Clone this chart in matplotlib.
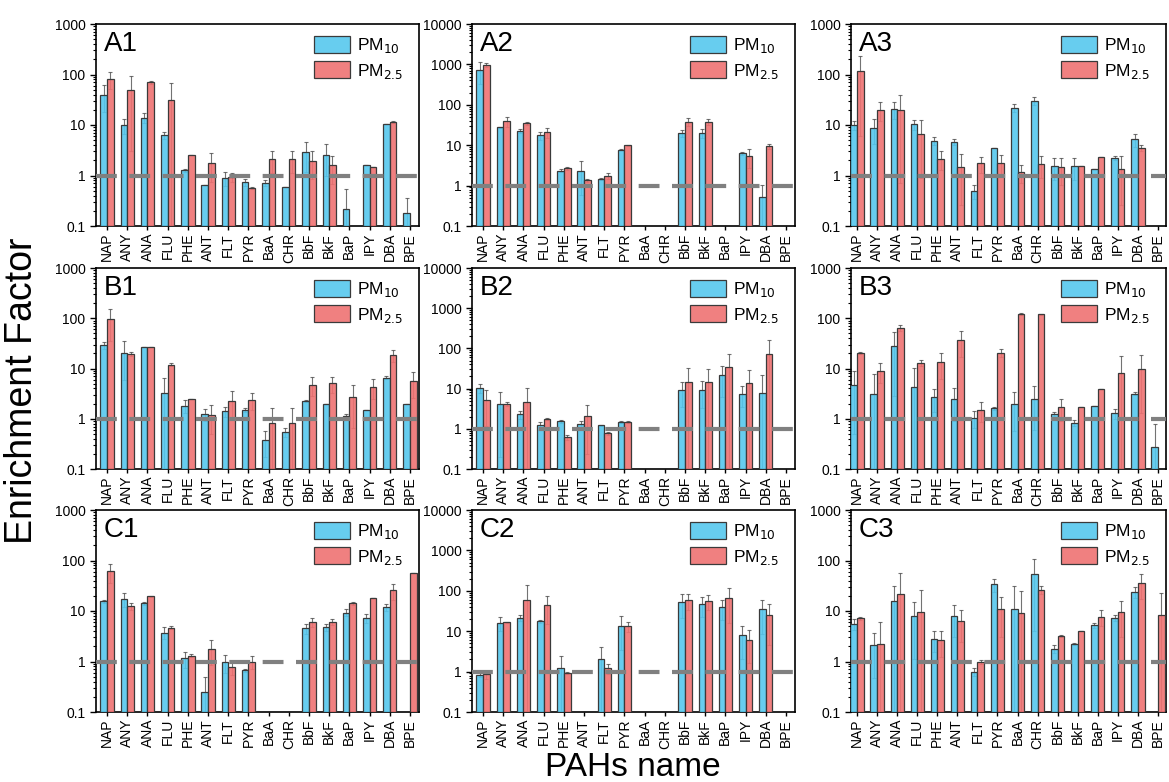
import numpy as np
import matplotlib
matplotlib.use('Agg')
import matplotlib.pyplot as plt
from matplotlib.colors import to_rgba
from matplotlib.ticker import FixedLocator, LogLocator, NullFormatter

plt.rcParams['font.family'] = ['Liberation Sans', 'DejaVu Sans']

nan = np.nan
pahs = ['NAP', 'ANY', 'ANA', 'FLU', 'PHE', 'ANT', 'FLT', 'PYR',
        'BaA', 'CHR', 'BbF', 'BkF', 'BaP', 'IPY', 'DBA', 'BPE']

# Site A
a1_pm10 = [40, 10, 14, 6.2, 1.26, 0.66, 0.9, 0.74, 0.71, 0.58, 2.9, 2.6, 0.22, 1.58, 10.6, 0.18]
a1_pm25 = [81, 49, 70, 31, 2.5, 1.74, 0.94, 0.57, 2.1, 2.1, 1.97, 1.58, nan, 1.47, 11.5, nan]
a1_pm10_err = [22, 3.4, 3, 1, 0.1, 0, 0.27, 0.13, 0.1, 0, 1.7, 1.6, 0.31, 0, 0, 0.18]
a1_pm25_err = [30, 46, 5, 36, 0, 1, 0.2, 0.02, 1, 1, 1.1, 0.9, 0, 0, 0.5, 0]

a2_pm10 = [724, 28, 22.6, 17.4, 2.35, 2.27, 1.46, 7.7, nan, nan, 20, 20, nan, 6.3, 0.51, nan]
a2_pm25 = [960, 39, 35, 21, 2.7, 1.36, 1.74, 10, nan, nan, 38, 38.5, nan, 5.4, 9.4, nan]
a2_pm10_err = [400, 1, 2, 4, 0.2, 1.7, 0.1, 0.3, 0, 0, 4, 5, 0, 0.5, 0.5, 0]
a2_pm25_err = [100, 10, 3, 6, 0.2, 0.1, 0.3, 0.3, 0, 0, 8, 6, 0, 2.6, 1.2, 0]

a3_pm10 = [9.8, 8.8, 21, 10.4, 4.9, 4.7, 0.5, 3.5, 21.9, 30, 1.53, 1.53, 1.36, 2.27, 5.25, nan]
a3_pm25 = [120, 20, 19.7, 6.7, 2.17, 1.46, 1.73, 1.78, 1.16, 1.68, 1.46, 1.53, 2.3, 1.36, 3.5, nan]
a3_pm10_err = [2, 4.5, 8, 2.4, 0.8, 0.7, 0.16, 0, 4, 5.5, 0.7, 0.7, 0, 0.2, 1.5, 0]
a3_pm25_err = [114, 8, 19, 5.8, 0.9, 1.2, 0.6, 0.8, 0.45, 0.8, 0.8, 0, 0, 1.1, 0.5, 0]

# Site B
b1_pm10 = [29, 20.8, 26.5, 3.3, 1.81, 1.24, 1.4, 1.5, 0.377, 0.54, 2.28, 2.0, 1.16, 1.46, 6.6, 1.99]
b1_pm25 = [95, 19.5, 26.5, 12, 2.5, 1.2, 2.3, 2.4, 0.83, 0.83, 4.8, 5.1, 2.65, 4.26, 18.4, 5.6]
b1_pm10_err = [5, 15, 0, 3.3, 0.5, 0.34, 0.3, 0.15, 0.2, 0.1, 0.1, 0, 0.1, 0, 0.5, 0]
b1_pm25_err = [60, 2, 0, 1, 0, 0.7, 1.25, 0.9, 0.8, 0.8, 1.9, 1.8, 2, 1.8, 5, 3]

b2_pm10 = [10.5, 4.2, 2.3, 1.21, 1.52, 1.28, 1.21, 1.47, nan, nan, 9.0, 9.2, 21.3, 7.45, 7.7, nan]
b2_pm25 = [5.2, 4.2, 4.6, 1.71, 0.62, 2.03, 0.77, 1.47, nan, nan, 15, 15, 34, 14, 74, nan]
b2_pm10_err = [2.6, 4, 0.5, 0.3, 0.1, 0.3, 0.05, 0.1, 0, 0, 5.5, 6, 15, 4, 14, 0]
b2_pm25_err = [4, 0.5, 6, 0.1, 0.1, 1.8, 0.05, 0.1, 0, 0, 17, 15, 39, 14.5, 85, 0]

b3_pm10 = [4.8, 3.1, 27.8, 4.26, 2.65, 2.5, 1.05, 1.6, 1.96, 2.5, 1.26, 0.83, 1.76, 1.28, 3.14, 0.27]
b3_pm25 = [20.2, 9.1, 65, 13, 13.2, 36.6, 1.51, 20.8, 122, 120, 1.7, 1.7, 3.83, 8.1, 10, nan]
b3_pm10_err = [4.3, 4.5, 25, 6, 1.3, 1.6, 0.4, 0.1, 1.4, 1.9, 0.1, 0.1, 0, 0.3, 0.2, 0.5]
b3_pm25_err = [1, 4, 9, 2, 7, 20, 0.66, 4, 8, 3, 0.8, 0, 0, 10, 8.7, 0]

# Site C
c1_pm10 = [15.5, 17.3, 14.2, 3.74, 1.16, 0.25, 0.96, 0.67, nan, nan, 4.55, 4.76, 9.3, 7.2, 11.8, nan]
c1_pm25 = [61.5, 12.6, 19.5, 4.7, 1.31, 1.75, 0.78, 1.0, nan, nan, 6.0, 6.15, 14.2, 18, 25.6, 57]
c1_pm10_err = [1, 5.4, 1, 1, 0.4, 0.24, 0.37, 0.05, 0, 0, 1, 0.7, 1.5, 1.4, 2, 0]
c1_pm25_err = [25, 2, 0.5, 0.3, 0.1, 0.9, 0.25, 0.3, 0, 0, 1.2, 0.8, 1.1, 0, 9, 0]

c2_pm10 = [0.83, 16, 21.6, 17.5, 1.26, nan, 2.06, 13.4, nan, nan, 51.7, 47, 39, 7.9, 34.7, nan]
c2_pm25 = [0.86, 16.6, 58, 45, 0.91, nan, 1.21, 13.2, nan, nan, 58, 54.7, 66, 6.06, 25.6, nan]
c2_pm10_err = [0.1, 6, 4, 1.5, 1.2, 0, 2, 10, 0, 0, 30, 24, 20, 5.8, 26, 0]
c2_pm25_err = [0.2, 0.5, 78, 30, 0.05, 0, 0.35, 3.4, 0, 0, 25, 22, 50, 4.4, 21, 0]

c3_pm10 = [5.6, 2.08, 15.6, 8.1, 2.74, 8.1, 0.63, 33.9, 11.1, 55, 1.79, 2.24, 5.19, 7.37, 23.8, nan]
c3_pm25 = [7.15, 2.24, 21.4, 9.55, 2.61, 6.4, 0.98, 11.1, 9.3, 26.5, 3.19, 3.95, 7.7, 9.55, 35.5, 8.45]
c3_pm10_err = [1.4, 1.6, 16, 7, 1.2, 5, 0.11, 10, 20, 51, 0.3, 0.1, 0.5, 1, 6, 0]
c3_pm25_err = [0.5, 3.9, 36, 16, 1.4, 4, 0.07, 8, 16, 5, 0.1, 0, 2.6, 6.5, 18, 14]

panels = [
    ('A1', a1_pm10, a1_pm25, a1_pm10_err, a1_pm25_err, 1000),
    ('A2', a2_pm10, a2_pm25, a2_pm10_err, a2_pm25_err, 10000),
    ('A3', a3_pm10, a3_pm25, a3_pm10_err, a3_pm25_err, 1000),
    ('B1', b1_pm10, b1_pm25, b1_pm10_err, b1_pm25_err, 1000),
    ('B2', b2_pm10, b2_pm25, b2_pm10_err, b2_pm25_err, 10000),
    ('B3', b3_pm10, b3_pm25, b3_pm10_err, b3_pm25_err, 1000),
    ('C1', c1_pm10, c1_pm25, c1_pm10_err, c1_pm25_err, 1000),
    ('C2', c2_pm10, c2_pm25, c2_pm10_err, c2_pm25_err, 10000),
    ('C3', c3_pm10, c3_pm25, c3_pm10_err, c3_pm25_err, 1000),
]

blue = '#56c8ee'
red = '#ef7272'
W, H = 1169, 782

# axes boxes in pixels (left, right) and (top, bottom)
cols = [(96, 419), (472, 795), (851, 1166)]
rows = [(24, 226), (268, 469), (510, 712)]
xlims = [(-0.55, 15.45), (-0.55, 15.45), (-0.3, 15.4)]

fig = plt.figure(figsize=(W / 100, H / 100), dpi=100)
x = np.arange(len(pahs))
bw = 0.33

for i, (name, pm10, pm25, e10, e25, ytop) in enumerate(panels):
    r, c = divmod(i, 3)
    l, rr = cols[c]
    t, b = rows[r]
    ax = fig.add_axes([l / W, 1 - b / H, (rr - l) / W, (b - t) / H])
    ax.set_yscale('log')

    ax.bar(x - bw / 2, pm10, bw, color=to_rgba(blue, 0.9), edgecolor='#3a3a3a',
           lw=0.9, zorder=3, label='PM$_{10}$')
    ax.bar(x + bw / 2, pm25, bw, color=to_rgba(red, 0.9), edgecolor='#3a3a3a',
           lw=0.9, zorder=3, label='PM$_{2.5}$')
    ax.errorbar(x - bw / 2, pm10, yerr=e10, fmt='none', ecolor='#444444',
                elinewidth=0.8, capsize=1.5, capthick=0.8, alpha=0.75, zorder=2)
    ax.errorbar(x + bw / 2, pm25, yerr=e25, fmt='none', ecolor='#444444',
                elinewidth=0.8, capsize=1.5, capthick=0.8, alpha=0.75, zorder=2)

    ax.axhline(1, color='#808080', lw=3, dashes=(5, 3), zorder=4)

    ax.set_ylim(0.1, ytop)
    ax.set_xlim(*xlims[c])
    major = [10.0 ** k for k in range(-1, int(np.log10(ytop)) + 1)]
    ax.yaxis.set_major_locator(FixedLocator(major))
    ax.set_yticklabels(['0.1' if v < 1 else str(int(v)) for v in major])
    ax.yaxis.set_minor_locator(LogLocator(base=10, subs=np.arange(2, 10)))
    ax.yaxis.set_minor_formatter(NullFormatter())
    ax.set_xticks(x)
    ax.set_xticklabels(pahs, rotation=90, fontsize=10)
    ax.tick_params(axis='y', which='major', labelsize=10, length=4, width=1)
    ax.tick_params(axis='y', which='minor', length=2.5, width=0.8)
    ax.tick_params(axis='x', length=3, width=1, pad=2)
    for s in ax.spines.values():
        s.set_linewidth(1.2)

    ax.text(0.025, 0.965, name, transform=ax.transAxes, fontsize=20,
            va='top', ha='left')
    ax.legend(loc='upper right', bbox_to_anchor=(0.99, 1.0), frameon=False,
              fontsize=12.5, handlelength=2.1, handleheight=1.1,
              labelspacing=0.35, borderpad=0.2, handletextpad=0.4)

fig.text(0.019, 0.5, 'Enrichment Factor', rotation=90, fontsize=27,
         ha='center', va='center')
fig.text(0.541, 0.019, 'PAHs name', fontsize=24, ha='center', va='center')

fig.savefig('out.png', dpi=100)
